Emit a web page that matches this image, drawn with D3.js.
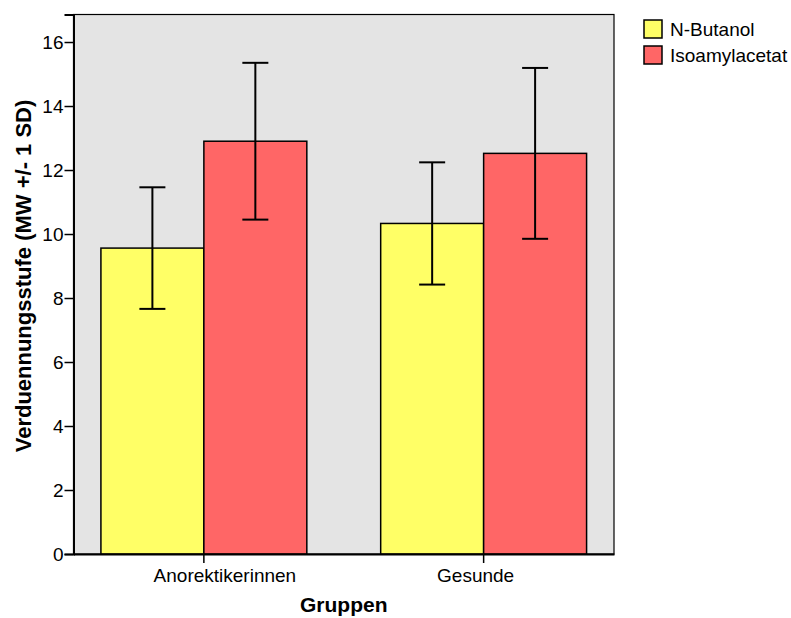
<!DOCTYPE html>
<html lang="de">
<head>
<meta charset="UTF-8" />
<title>Verduennungsstufe</title>
<style>
  body { margin: 0; background: #fff; }
  svg { display: block; font-family: 'Liberation Sans', Arial, sans-serif; }
</style>
<script src="https://d3js.org/d3.v7.min.js"></script>
</head>
<body>
<div id="chart"></div>
<script>
  // Daten
  const groups = ['Anorektikerinnen', 'Gesunde'];
  const series = ['N-Butanol', 'Isoamylacetat'];
  const colors = ['#ffff66', '#ff6666'];
  const means  = [[9.56, 12.90], [10.33, 12.52]];   // [gruppe][serie]
  const sds    = [[1.90, 2.45], [1.91, 2.67]];
  const yTicks = [0, 2, 4, 6, 8, 10, 12, 14, 16];

  const width = 791, height = 618;
  const plot = { left: 73.5, right: 614, top: 14.5, bottom: 554 };
  const labelShift = [21, -8];   // Beschriftungen sitzen im Original nicht mittig unter dem Tick

  const svg = d3.select('#chart').append('svg')
    .attr('width', width).attr('height', height);

  const x0 = d3.scaleBand().domain(groups)
    .range([plot.left, plot.right])
    .paddingInner(0.264).paddingOuter(0.098);
  const x1 = d3.scaleBand().domain(series).range([0, x0.bandwidth()]);
  const y = d3.scaleLinear().domain([0, 16.86]).range([plot.bottom, plot.top]);

  // Hintergrund
  svg.append('rect')
    .attr('x', plot.left).attr('y', plot.top)
    .attr('width', plot.right - plot.left).attr('height', plot.bottom - plot.top)
    .attr('fill', '#e4e4e4').attr('stroke', '#000').attr('stroke-width', 1.2);

  // Balken
  const g = svg.append('g').selectAll('g')
    .data(groups).join('g')
    .attr('transform', d => `translate(${x0(d)},0)`);

  g.selectAll('rect')
    .data((d, i) => series.map((s, j) => ({ s, j, m: means[i][j], sd: sds[i][j] })))
    .join('rect')
    .attr('x', d => x1(d.s))
    .attr('y', d => y(d.m))
    .attr('width', x1.bandwidth())
    .attr('height', d => y(0) - y(d.m))
    .attr('fill', d => colors[d.j])
    .attr('stroke', '#000').attr('stroke-width', 1.5);

  // Fehlerbalken
  const cap = 13;
  const eb = g.selectAll('g.err')
    .data((d, i) => series.map((s, j) => ({ s, m: means[i][j], sd: sds[i][j] })))
    .join('g').attr('class', 'err')
    .attr('stroke', '#000').attr('stroke-width', 2);
  const cx = d => x1(d.s) + x1.bandwidth() / 2;
  eb.append('line')
    .attr('x1', cx).attr('x2', cx)
    .attr('y1', d => y(d.m + d.sd)).attr('y2', d => y(d.m - d.sd));
  eb.append('line')
    .attr('x1', d => cx(d) - cap).attr('x2', d => cx(d) + cap)
    .attr('y1', d => y(d.m + d.sd)).attr('y2', d => y(d.m + d.sd));
  eb.append('line')
    .attr('x1', d => cx(d) - cap).attr('x2', d => cx(d) + cap)
    .attr('y1', d => y(d.m - d.sd)).attr('y2', d => y(d.m - d.sd));

  // Achsen
  const yAxis = svg.append('g')
    .attr('transform', `translate(${plot.left},0)`)
    .call(d3.axisLeft(y).tickValues(yTicks).tickSize(9).tickPadding(1));
  yAxis.select('.domain').attr('stroke-width', 2);
  yAxis.selectAll('.tick line').attr('stroke-width', 1.5);
  yAxis.selectAll('.tick text').attr('font-size', 19).attr('fill', '#000');

  const xAxis = svg.append('g')
    .attr('transform', `translate(0,${plot.bottom})`)
    .call(d3.axisBottom(x0).tickSize(9).tickPadding(6).tickSizeOuter(0));
  xAxis.select('.domain').attr('stroke-width', 2);
  xAxis.selectAll('.tick line').attr('stroke-width', 1.5);
  xAxis.selectAll('.tick text')
    .attr('font-size', 19).attr('fill', '#000')
    .attr('dx', (d, i) => labelShift[i]);

  // Achsentitel
  svg.append('text')
    .attr('transform', 'translate(31,276) rotate(-90)')
    .attr('text-anchor', 'middle')
    .attr('font-size', 22).attr('font-weight', 'bold')
    .text('Verduennungsstufe (MW +/- 1 SD)');

  svg.append('text')
    .attr('x', (plot.left + plot.right) / 2).attr('y', 612)
    .attr('text-anchor', 'middle')
    .attr('font-size', 21).attr('font-weight', 'bold')
    .text('Gruppen');

  // Legende
  const leg = svg.append('g').selectAll('g')
    .data(series).join('g')
    .attr('transform', (d, i) => `translate(644,${20 + i * 26})`);
  leg.append('rect')
    .attr('width', 18).attr('height', 18)
    .attr('fill', (d, i) => colors[i])
    .attr('stroke', '#000').attr('stroke-width', 1.5);
  leg.append('text')
    .attr('x', 26).attr('y', 16)
    .attr('font-size', 19)
    .text(d => d);
</script>
</body>
</html>
